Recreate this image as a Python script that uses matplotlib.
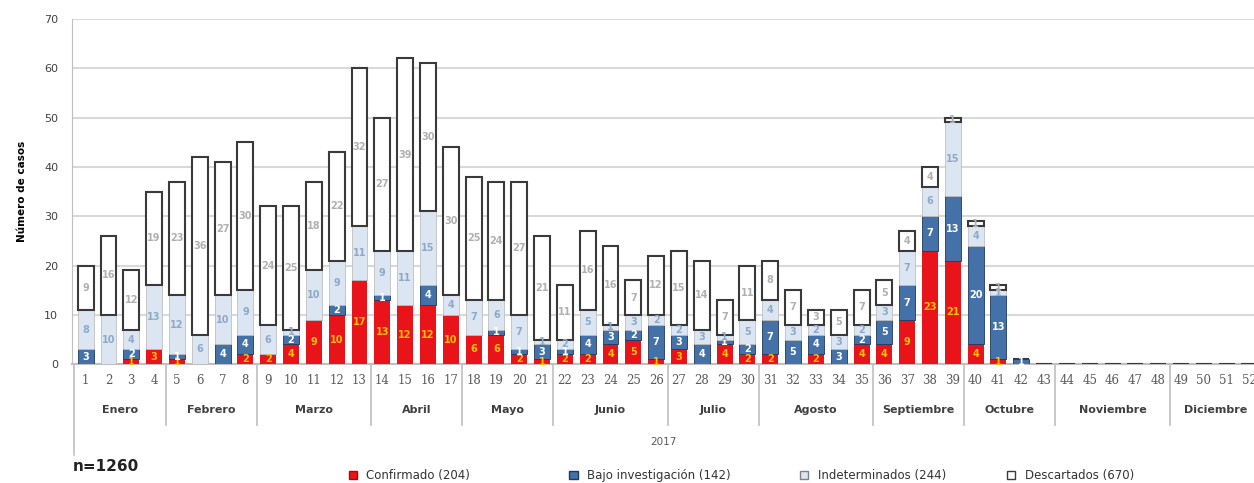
import matplotlib
matplotlib.use('Agg')
import matplotlib.pyplot as plt
import numpy as np
from matplotlib.patches import Patch

weeks = np.arange(1, 53)
confirmado = [0, 0, 1, 3, 1, 0, 0, 2, 2, 4, 9, 10, 17, 13, 12, 12, 10, 6, 6, 2,
              1, 2, 2, 4, 5, 1, 3, 0, 4, 2, 2, 0, 2, 0, 4, 4, 9, 23, 21, 4,
              1, 0] + [0] * 10
bajo_inv = [3, 0, 2, 0, 1, 0, 4, 4, 0, 2, 0, 2, 0, 1, 0, 4, 0, 0, 1, 1,
            3, 1, 4, 3, 2, 7, 3, 4, 1, 2, 7, 5, 4, 3, 2, 5, 7, 7, 13, 20,
            13, 1] + [0] * 10
indeterminados = [8, 10, 4, 13, 12, 6, 10, 9, 6, 1, 10, 9, 11, 9, 11, 15, 4, 7, 6, 7,
                  1, 2, 5, 1, 3, 2, 2, 3, 1, 5, 4, 3, 2, 3, 2, 3, 7, 6, 15, 4,
                  1, 0] + [0] * 10
descartados = [9, 16, 12, 19, 23, 36, 27, 30, 24, 25, 18, 22, 32, 27, 39, 30, 30, 25, 24, 27,
               21, 11, 16, 16, 7, 12, 15, 14, 7, 11, 8, 7, 3, 5, 7, 5, 4, 4, 1, 1,
               1, 0] + [0] * 10

months = ['Enero', 'Febrero', 'Marzo', 'Abril', 'Mayo', 'Junio', 'Julio',
          'Agosto', 'Septiembre', 'Octubre', 'Noviembre', 'Diciembre']
month_weeks = [4, 4, 5, 4, 4, 5, 4, 5, 4, 4, 5, 4]
legend_labels = ['Confirmado (204)', 'Bajo investigación (142)',
                 'Indeterminados (244)', 'Descartados (670)']

series = [confirmado, bajo_inv, indeterminados, descartados]
faces = ['#E8141A', '#4472A8', '#DCE6F2', '#FFFFFF']
edges = ['none', '#1F3A5F', '#BFBFBF', '#3A3A3A']
lws = [0, 0.6, 0.6, 1.5]
txt_colors = ['#FFC000', '#FFFFFF', '#8EA9C8', '#B0B0B0']

fig = plt.figure(figsize=(12.54, 4.83), dpi=100)
ax = fig.add_axes([0.0574, 0.246, 0.9426, 0.715])

bottom = np.zeros(len(weeks))
for vals, fc, ec, lw, tc in zip(series, faces, edges, lws, txt_colors):
    vals = np.array(vals, dtype=float)
    ax.bar(weeks, vals, 0.7, bottom=bottom, color=fc, edgecolor=ec, linewidth=lw, zorder=3)
    for w, v, b in zip(weeks, vals, bottom):
        if v > 0:
            ax.text(w, b + v / 2, f'{int(v)}', ha='center', va='center', fontsize=7,
                    color=tc, fontweight='bold', zorder=4)
    bottom += vals

ax.set_ylim(0, 70)
ax.set_xlim(0.4, 52.2)
ax.set_yticks(range(0, 71, 10))
ax.yaxis.grid(True, color='#D9D9D9', linewidth=1.5, zorder=0)
ax.set_xticks([])
ax.tick_params(axis='y', length=0, labelsize=8, colors='#404040', pad=10)
for s in ['top', 'right']:
    ax.spines[s].set_visible(False)
ax.spines['left'].set_color('#BFBFBF')
ax.spines['bottom'].set_color('#BFBFBF')
ax.spines['bottom'].set_linewidth(1.5)
ax.set_ylabel('Número de casos', fontsize=7.5, fontweight='bold', labelpad=12)

tr = ax.get_xaxis_transform()
for w in weeks:
    ax.text(w, -0.046, str(w), transform=tr, ha='center', va='center',
            fontsize=8.5, color='#595959', family='DejaVu Serif')

start = 0.5
for i, (m, n) in enumerate(zip(months, month_weeks)):
    ax.text(start + n / 2, -0.133, m, transform=tr, ha='center', va='center',
            fontsize=8, color='#404040', fontweight='bold')
    y_end = -0.264 if i == 0 else -0.177
    ax.plot([start, start], [0, y_end], transform=tr, color='#BFBFBF',
            linewidth=1.2, clip_on=False)
    start += n

ax.text(0.5, -0.226, '2017', transform=ax.transAxes, ha='center', va='center',
        fontsize=7.5, color='#595959')

fig.text(0.058, 0.025, 'n=1260', fontsize=11, fontweight='bold', color='#222222')

# legend entries placed one by one, like the original
leg_x = [0.278, 0.454, 0.638, 0.803]
handle_edges = ['#C00000', '#1F3A5F', '#808080', '#3A3A3A']
for lab, fc, ec, x in zip(legend_labels, faces, handle_edges, leg_x):
    h = Patch(facecolor=fc, edgecolor=ec, linewidth=1)
    lg = fig.legend([h], [lab], loc='center left', bbox_to_anchor=(x, 0.015),
                    frameon=False, fontsize=8.5, handlelength=0.7, handleheight=0.7,
                    handletextpad=0.8, borderpad=0, borderaxespad=0)
    for t in lg.get_texts():
        t.set_color('#333333')

fig.savefig('out.png', dpi=100)
